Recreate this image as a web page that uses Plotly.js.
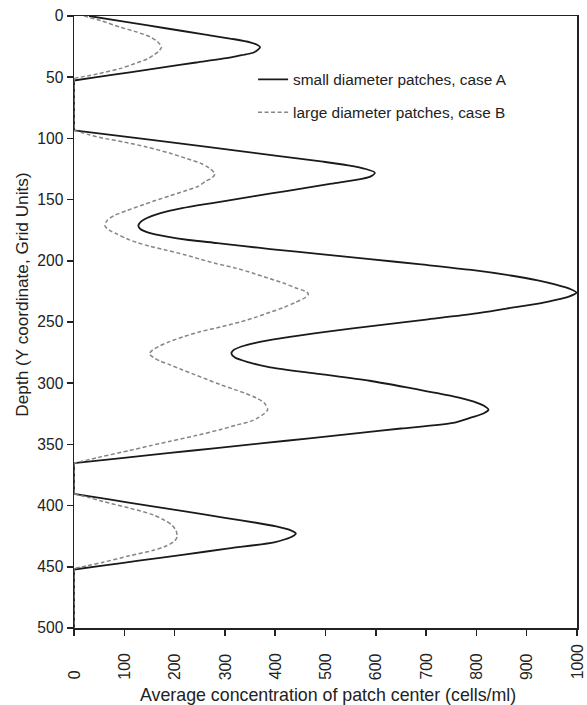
<!DOCTYPE html>
<html>
<head>
<meta charset="utf-8">
<script src="https://cdn.plot.ly/plotly-3.0.1.min.js"></script>
<style>html,body{margin:0;padding:0;background:#fff;}#chart{width:587px;height:705px;}</style>
</head>
<body>
<div id="chart"></div>
<script>
// Case A: small diameter patches (depth in grid units, concentration in cells/ml)
// null entries only split the curve into pieces so the zero stretches along the axis stay straight
const depthA = [0,5,10,15,19,21.5,23.5,25.4,27.5,30,32,34,38,42,46,50,52.7, null, 52.7,93.4, null,
  93.4,100,107,114,119,122,125,128,131,133,137,141,145,149,153,157,161,165,168,171.3,174,177,180.3,183,185.5,188,190.4,194.5,198.6,203,207.5,212,216,219.5,223,226,229,232,234.7,239,243,248,252.5,258,263.4,267,270,273,275.8,279,283,287,292.5,298,304.5,310.7,315,318.5,321.6,324.5,328,332.5,337,341,345,349,353,357,361,365.3, null, 365.3,390.4, null,
  390.4,395,400,405,410,414,417,420,422.7,425,427.5,430,435,440,445,449,452.2, null, 452.2,500];
const valueA = [30,106,182,258,319,350,364,370,366,356,333,309,243,177,111,45,0, null, 0,0, null,
  0,130,265,400,495,545,580,598,590,572,512,452,392,332,272,215,172,145,133,128,132,148,185,228,285,338,390,490,588,690,790,868,922,958,986,999,985,958,926,860,800,700,608,500,410,361,333,317,313,320,348,390,490,588,675,754,795,815,824,815,790,754,650,560,468,376,283,191,99,0, null, 0,0, null,
  0,70,147,224,300,362,402,430,441,435,420,398,308,219,129,57,0, null, 0,0];

// Case B: large diameter patches
const depthB = [0,4,9,13,17,21,25.4,29,32,35,39,43,47,51, null, 51,93.4, null,
  93.4,97,100,103,107,112,116.5,120,124,129,132,135,139.5,143,147,151,155,159,163,167,171,175,178,182,185,188,191,195,198.6,202,206,210,214,218,222,225,227,230,234,238,242,246,250,254,258,262,266,270,273,276,279,282,285,289,293,297,301,305,308.5,312,316,321.6,325,328,331,334,338,343,347.5,351,355,360,365.3, null, 365.3,390.4, null,
  390.4,393.5,396.7,402,407.6,412,416,420.5,425.4,429,433,436.5,441,446.3,449,451.4, null, 451.4,500];
const valueB = [20,55,91,124,151,166,174,168,158,146,120,91,50,0, null, 0,0, null,
  0,30,60,100,144,190,224,250,268,280,275,262,245,220,190,160,132,105,80,66,61,70,85,105,125,150,180,220,250,280,322,355,385,415,440,460,466,460,440,418,390,362,330,292,250,218,190,168,156,150,158,172,191,215,240,265,290,318,342,362,378,385,378,367,352,325,290,240,191,152,110,55,0, null, 0,0, null,
  0,30,58,110,158,180,195,203,205,200,183,158,110,58,28,0, null, 0,0];

const seriesNames = ['small diameter patches, case A', 'large diameter patches, case B'];
const xTickVals = [0,100,200,300,400,500,600,700,800,900,1000];
const xTickText = ['0','100','200','300','400','500','600','700','800','900','1000'];
const yTickVals = [0,50,100,150,200,250,300,350,400,450,500];
const xTitle = 'Average concentration of patch center (cells/ml)';
const yTitle = 'Depth (Y coordinate, Grid Units)';

const FONT = 'Liberation Sans, Arial, Helvetica, sans-serif';
const INK = '#222';

const traces = [
  {x: valueA, y: depthA, type: 'scatter', mode: 'lines', name: seriesNames[0], legendgroup: 'a',
   connectgaps: false,
   line: {color: '#1a1a1a', width: 1.8, shape: 'spline', smoothing: 0.75}},
  {x: valueB, y: depthB, type: 'scatter', mode: 'lines', name: seriesNames[1], legendgroup: 'b',
   connectgaps: false,
   line: {color: '#858585', width: 1.5, dash: '4px,2.5px', shape: 'spline', smoothing: 0.75}}
];

const annotations = xTickVals.map((v, i) => ({
  x: v, xref: 'x', y: -0.088, yref: 'paper', text: xTickText[i], textangle: -90,
  xanchor: 'center', yanchor: 'bottom', showarrow: false,
  font: {family: FONT, size: 15.8, color: INK}
}));
annotations.push({x: 0.505, xref: 'paper', y: -0.1095, yref: 'paper', text: xTitle,
  xanchor: 'center', yanchor: 'middle', showarrow: false, font: {family: FONT, size: 17.8, color: INK}});
annotations.push({x: -0.103, xref: 'paper', y: 0.545, yref: 'paper', text: yTitle, textangle: -90,
  xanchor: 'center', yanchor: 'middle', showarrow: false, font: {family: FONT, size: 17.2, color: INK}});

const layout = {
  width: 587, height: 705,
  margin: {l: 74, r: 10, t: 16, b: 77, pad: 0},
  paper_bgcolor: '#fff', plot_bgcolor: '#fff',
  font: {family: FONT, size: 15, color: INK},
  showlegend: true,
  legend: {x: 0.356, xanchor: 'left', y: 0.9235, yanchor: 'top', bgcolor: 'rgba(0,0,0,0)',
    borderwidth: 0, traceorder: 'grouped', tracegroupgap: 10, font: {family: FONT, size: 15.4, color: INK}},
  xaxis: {range: [0, 1000], tickmode: 'array', tickvals: xTickVals, showticklabels: false,
    ticks: 'outside', ticklen: 6, tickwidth: 1.5, tickcolor: INK,
    showline: true, linecolor: INK, linewidth: 1.5, mirror: true, showgrid: false, zeroline: false,
    layer: 'below traces', fixedrange: true},
  yaxis: {range: [500, 0], tickmode: 'array', tickvals: yTickVals,
    ticks: 'outside', ticklen: 6, tickwidth: 1.5, tickcolor: INK,
    tickfont: {family: FONT, size: 15.6, color: INK},
    showline: true, linecolor: INK, linewidth: 1.5, mirror: true, showgrid: false, zeroline: false,
    layer: 'below traces', fixedrange: true},
  annotations: annotations
};

Plotly.newPlot('chart', traces, layout, {displayModeBar: false, staticPlot: true});
</script>
</body>
</html>
